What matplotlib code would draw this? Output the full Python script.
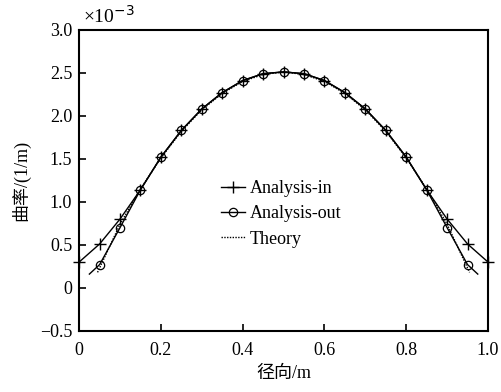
import matplotlib
matplotlib.use('Agg')
import matplotlib.pyplot as plt
import numpy as np

plt.rcParams['font.family'] = ['Liberation Serif', 'Noto Sans CJK SC', 'DejaVu Sans']
plt.rcParams['axes.unicode_minus'] = False

# curvature along the radius, in units of 1e-3 1/m
x_in = [0, 0.05, 0.1, 0.15, 0.2, 0.25, 0.3, 0.35, 0.4, 0.45, 0.5,
        0.55, 0.6, 0.65, 0.7, 0.75, 0.8, 0.85, 0.9, 0.95, 1.0]
k_in = [0.30, 0.51, 0.80, 1.14, 1.52, 1.83, 2.08, 2.27, 2.41, 2.49, 2.51,
        2.49, 2.41, 2.27, 2.08, 1.83, 1.52, 1.14, 0.80, 0.51, 0.30]

x_out = [0.025, 0.05, 0.1, 0.15, 0.2, 0.25, 0.3, 0.35, 0.4, 0.45, 0.5,
         0.55, 0.6, 0.65, 0.7, 0.75, 0.8, 0.85, 0.9, 0.95, 0.975]
k_out = [0.16, 0.27, 0.70, 1.14, 1.52, 1.83, 2.08, 2.27, 2.41, 2.49, 2.51,
         2.49, 2.41, 2.27, 2.08, 1.83, 1.52, 1.14, 0.70, 0.27, 0.16]

x_th = [0.045, 0.1, 0.15, 0.2, 0.25, 0.3, 0.35, 0.4, 0.45, 0.5,
        0.55, 0.6, 0.65, 0.7, 0.75, 0.8, 0.85, 0.9, 0.955]
k_th = [0.18, 0.74, 1.15, 1.51, 1.82, 2.07, 2.26, 2.40, 2.48, 2.51,
        2.48, 2.40, 2.26, 2.07, 1.82, 1.51, 1.15, 0.74, 0.18]

fig = plt.figure(figsize=(5.01, 3.92), dpi=100)
ax = fig.add_axes([0.158, 0.156, 0.816, 0.768])

ax.plot(x_in, k_in, color='black', lw=1.0, marker='+', ms=8, mew=1.0,
        clip_on=False, label='Analysis-in')
ax.plot(x_out, k_out, color='black', lw=1.0, marker='o', ms=6, mfc='none',
        mew=0.9, markevery=list(range(1, len(x_out) - 1)), label='Analysis-out')
ax.plot(x_th, k_th, color='black', lw=1.0, ls=(0, (1, 1)), label='Theory')

ax.set_xlim(0, 1.0)
ax.set_ylim(-0.5, 3.0)
ax.set_xticks([0, 0.2, 0.4, 0.6, 0.8, 1.0])
ax.set_xticklabels(['0', '0.2', '0.4', '0.6', '0.8', '1.0'])
ax.set_yticks([-0.5, 0, 0.5, 1.0, 1.5, 2.0, 2.5, 3.0])
ax.set_yticklabels(['\u22120.5', '0', '0.5', '1.0', '1.5', '2.0', '2.5', '3.0'])
ax.tick_params(axis='both', direction='in', length=5, width=1.2, labelsize=13,
               top=False, right=False)
ax.tick_params(axis='x', pad=8)
ax.tick_params(axis='y', pad=5)
for s in ax.spines.values():
    s.set_linewidth(1.5)

ax.text(0.01, 1.01, '\u00d710$^{-3}$', transform=ax.transAxes, fontsize=14,
        ha='left', va='bottom')
ax.set_xlabel('径向/m', fontsize=13, labelpad=4)
ax.set_ylabel('曲率/(1/m)', fontsize=13, labelpad=6)

ax.legend(loc='upper left', bbox_to_anchor=(0.325, 0.53), frameon=False,
          fontsize=13, handlelength=1.3, handletextpad=0.3, labelspacing=0.45,
          borderpad=0)

fig.savefig('out.png', dpi=100)
